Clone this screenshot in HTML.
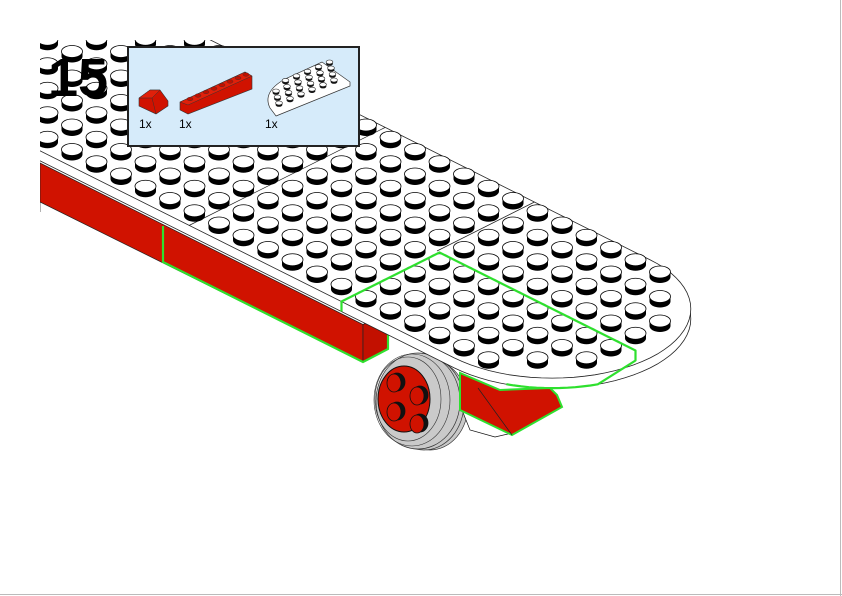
<!DOCTYPE html>
<html><head><meta charset="utf-8"><style>
html,body{margin:0;padding:0;background:#fff;}
svg{display:block;}
</style></head><body>
<svg id="s" width="842" height="596" viewBox="0 0 842 596" xmlns="http://www.w3.org/2000/svg">
<defs><clipPath id="c"><rect x="40" y="40" width="800" height="556"/></clipPath></defs>
<rect width="842" height="596" fill="#fff"/>
<line x1="840.5" y1="0" x2="840.5" y2="596" stroke="#bbb"/>
<line x1="0" y1="594.5" x2="842" y2="594.5" stroke="#bbb"/>
<g id="wheel">
  <ellipse cx="430" cy="405" rx="38" ry="45" fill="#c8c8c8" stroke="#333" stroke-width="0.7"/>
  <ellipse cx="424" cy="403" rx="40" ry="47" fill="#c8c8c8" stroke="#333" stroke-width="0.7"/>
  <ellipse cx="418" cy="401" rx="42" ry="48" fill="#cacaca" stroke="#333" stroke-width="0.7"/>
  <ellipse cx="412" cy="400" rx="38" ry="46" fill="none" stroke="#333" stroke-width="0.6"/>
  <ellipse cx="408" cy="399" rx="33" ry="42" fill="none" stroke="#333" stroke-width="0.6"/>
  <ellipse cx="404" cy="399" rx="26" ry="33" fill="#d01200" stroke="#111" stroke-width="1"/>
  <g fill="#d01200" stroke="#111" stroke-width="0.8">
    <ellipse cx="397" cy="382" rx="8" ry="9" fill="#111"/><ellipse cx="394" cy="383" rx="7" ry="9"/>
    <ellipse cx="420" cy="395" rx="8" ry="9" fill="#111"/><ellipse cx="417" cy="396" rx="7" ry="9"/>
    <ellipse cx="397" cy="411" rx="8" ry="9" fill="#111"/><ellipse cx="394" cy="412" rx="7" ry="9"/>
    <ellipse cx="420" cy="423" rx="8" ry="9" fill="#111"/><ellipse cx="417" cy="424" rx="7" ry="9"/>
  </g>
</g>
<polygon points="462,410 470,430 495,437 512,433" fill="#fff" stroke="#111" stroke-width="0.7"/>
<g clip-path="url(#c)" id="main"></g>
<text x="48" y="96" font-family="Liberation Sans, sans-serif" font-weight="bold" font-size="54" fill="#000">15</text>
<rect x="128" y="47" width="231" height="99" fill="#d6ebfa" stroke="#222" stroke-width="2"/>
<!-- slope -->
<polygon points="139,98 139,106 156,114 168,106 168,101 160,90 150,90" fill="#d01200" stroke="#333" stroke-width="0.6"/>
<polygon points="139,98 150,90 160,90 152,98" fill="#e0200a" stroke="#333" stroke-width="0.5"/>
<line x1="152" y1="98" x2="156" y2="114" stroke="#333" stroke-width="0.5"/>
<!-- 1x8 brick -->
<polygon points="180,102 245,72 252,76 252,89 188,114 180,110" fill="#d01200" stroke="#333" stroke-width="0.6"/>
<polygon points="180,102 245,72 252,76 188,105" fill="#e0200a" stroke="#333" stroke-width="0.5"/>
<g fill="#c01000" stroke="#333" stroke-width="0.4">
<ellipse cx="190" cy="99" rx="3" ry="1.8"/><ellipse cx="198" cy="95.5" rx="3" ry="1.8"/><ellipse cx="206" cy="92" rx="3" ry="1.8"/><ellipse cx="214" cy="88.5" rx="3" ry="1.8"/><ellipse cx="222" cy="85" rx="3" ry="1.8"/><ellipse cx="230" cy="81.5" rx="3" ry="1.8"/><ellipse cx="238" cy="78" rx="3" ry="1.8"/><ellipse cx="246" cy="74.5" rx="3" ry="1.8"/>
</g>
<!-- white plate -->
<path d="M276,116 L350,86 L350,82 L322,62 L285,79 Q262,92 270,108 Z" fill="#fff" stroke="#333" stroke-width="0.7"/>
<g id="mini" fill="#fff" stroke="#222" stroke-width="0.6"></g>
<g font-family="Liberation Sans, sans-serif" font-size="12" fill="#000">
<text x="139" y="128">1x</text><text x="179" y="128">1x</text><text x="265" y="128">1x</text>
</g>
<script>
(function(){
var NS="http://www.w3.org/2000/svg";
var m=document.getElementById('main');
function P(s,t){return [47.5+24.5*(s+t),154.5+12.25*(s-t)];}
var SC=16.6;
function el(n,a,p){var e=document.createElementNS(NS,n);for(var k in a)e.setAttribute(k,a[k]);(p||m).appendChild(e);return e;}
function outline(dy){
 var pts=[];var a=P(-10,0);pts.push(a);
 for(var i=0;i<=40;i++){var th=-Math.PI/2+Math.PI*i/40;pts.push(P(SC+4*Math.cos(th),4+4*Math.sin(th)));}
 pts.push(P(-10,8));
 return pts.map(function(p){return p[0].toFixed(1)+','+(p[1]+dy).toFixed(1);}).join(' ');
}
el('polygon',{points:'40,163 363,324.5 363,362 40,202',fill:'#d01200',stroke:'#222','stroke-width':0.7});
el('polygon',{points:'363,324.5 388,312 388,349 363,362',fill:'#c21000',stroke:'#222','stroke-width':0.7});
el('line',{x1:40,y1:202,x2:40,y2:212,stroke:'#222','stroke-width':0.7});
el('polyline',{points:'163,226 163,262 363,362 388,349 388,330',fill:'none',stroke:'#2ee02e','stroke-width':2.2});
el('polygon',{points:outline(10),fill:'#fff',stroke:'#222','stroke-width':0.8});
el('polygon',{points:outline(0),fill:'#fff',stroke:'#222','stroke-width':0.8});
el('line',{x1:189,y1:225.5,x2:385,y2:127.5,stroke:'#222','stroke-width':0.7});
el('line',{x1:437,y1:251,x2:534.5,y2:202,stroke:'#222','stroke-width':0.7});
var st=[];
for(var k=-12;k<21;k++)for(var t=0.5;t<8;t+=1){var s=k+0.5;
 if(s>SC){var d=Math.hypot(s-SC,t-4);if(d>3.7)continue;}
 var p=P(s,t);st.push([p[0],p[1]-5]);}
st.sort(function(a,b){return a[1]-b[1];});
st.forEach(function(c){
 if(c[0]<25||c[1]<30)return;
 el('ellipse',{cx:c[0],cy:c[1]+5,rx:10.5,ry:6,fill:'#000'});
 el('rect',{x:c[0]-10.5,y:c[1],width:21,height:5,fill:'#000'});
 el('ellipse',{cx:c[0],cy:c[1],rx:10.5,ry:6,fill:'#fff',stroke:'#000','stroke-width':0.8});
});
// green highlight
var g=[];var a=P(12,0);g.push([a[0],a[1]+10]);g.push(a);g.push(P(12,4));
var e=P(20,4);g.push(e);g.push([e[0],e[1]+10]);
for(var i=0;i<=12;i++){var th=-0.45-(Math.PI/2-0.45)*i/12*0.6;var q=P(SC+4*Math.cos(th),4+4*Math.sin(th));g.push([q[0],q[1]+10]);}
el('polyline',{points:g.map(function(p){return p[0].toFixed(1)+','+p[1].toFixed(1);}).join(' '),fill:'none',stroke:'#2ee02e','stroke-width':2.2,'stroke-linejoin':'round'});
el('polygon',{points:'460,373 460,410 512,435 562,407 557,395 550,388 500,390',fill:'#d01200',stroke:'#2ee02e','stroke-width':2});
el('polyline',{points:'478,388 512,435',fill:'none',stroke:'#222','stroke-width':0.7});
// mini plate studs
var mi=document.getElementById('mini');
for(var r=3;r>=0;r--)for(var c=0;c<6;c++){
 if(r==3&&c==0)continue;
 var x=279+c*11+r*-1.5, y=103-c*4.6-r*6;
 el('ellipse',{cx:x,cy:y+1.8,rx:3.4,ry:2,fill:'#111','stroke-width':0},mi);
 el('ellipse',{cx:x,cy:y,rx:3.4,ry:2},mi);
}
})();
</script>
</svg>
</body></html>
